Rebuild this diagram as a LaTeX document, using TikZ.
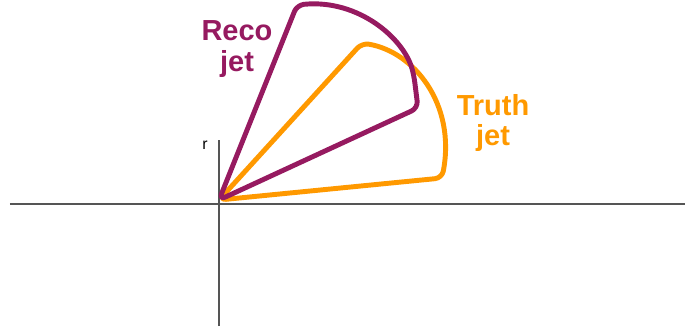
\documentclass[tikz,border=0pt]{standalone}
\usepackage{fontspec}
\setmainfont{Liberation Sans}
\usepackage{tikz}
\usetikzlibrary{positioning,calc}
\definecolor{recoPurple}{RGB}{150,26,96}
\definecolor{truthOrange}{RGB}{255,153,0}
\definecolor{axeGris}{RGB}{85,85,85}

\begin{document}
\begin{tikzpicture}[x=0.02cm,y=0.02cm,
  axe/.style={axeGris,line width=1.1pt},
  jet/.style={line width=2.8pt,line join=round,line cap=round},
  etiq/.style={font=\fontsize{16.5}{17.6}\selectfont\bfseries,align=center}]

  \useasboundingbox (-219,-127) rectangle (466,204);

  % axes
  \coordinate (Xg) at (-209,0);
  \coordinate (Xd) at (466,0);
  \coordinate (Yb) at (0,-122);
  \coordinate (Yh) at (0,64);
  \draw[axe] (Xg)--(Xd);
  \draw[axe] (Yb)--(Yh);
  \node[font=\fontsize{9}{10}\selectfont] (r) at (-14,59) {r};

  % jets
  \coordinate (A) at (0,4);
  \coordinate (R1) at (78,199);
  \coordinate (R2) at (199,96);
  \coordinate (T1) at (143,161);
  \coordinate (T2) at (223,26);

  \draw[jet,truthOrange,rounded corners=4pt] (A)--(T1)
    .. controls (195,152) and (237,100) .. (T2)--cycle;
  \draw[jet,recoPurple,rounded corners=4pt] (A)--(R1)
    .. controls (140,205) and (185,165) .. (195,128)--(R2)--cycle;

  \node[etiq,recoPurple] (reco) at (18,155) {Reco\\jet};
  \node[etiq,truthOrange] (truth) at (274,81) {Truth\\jet};
\end{tikzpicture}
\end{document}
